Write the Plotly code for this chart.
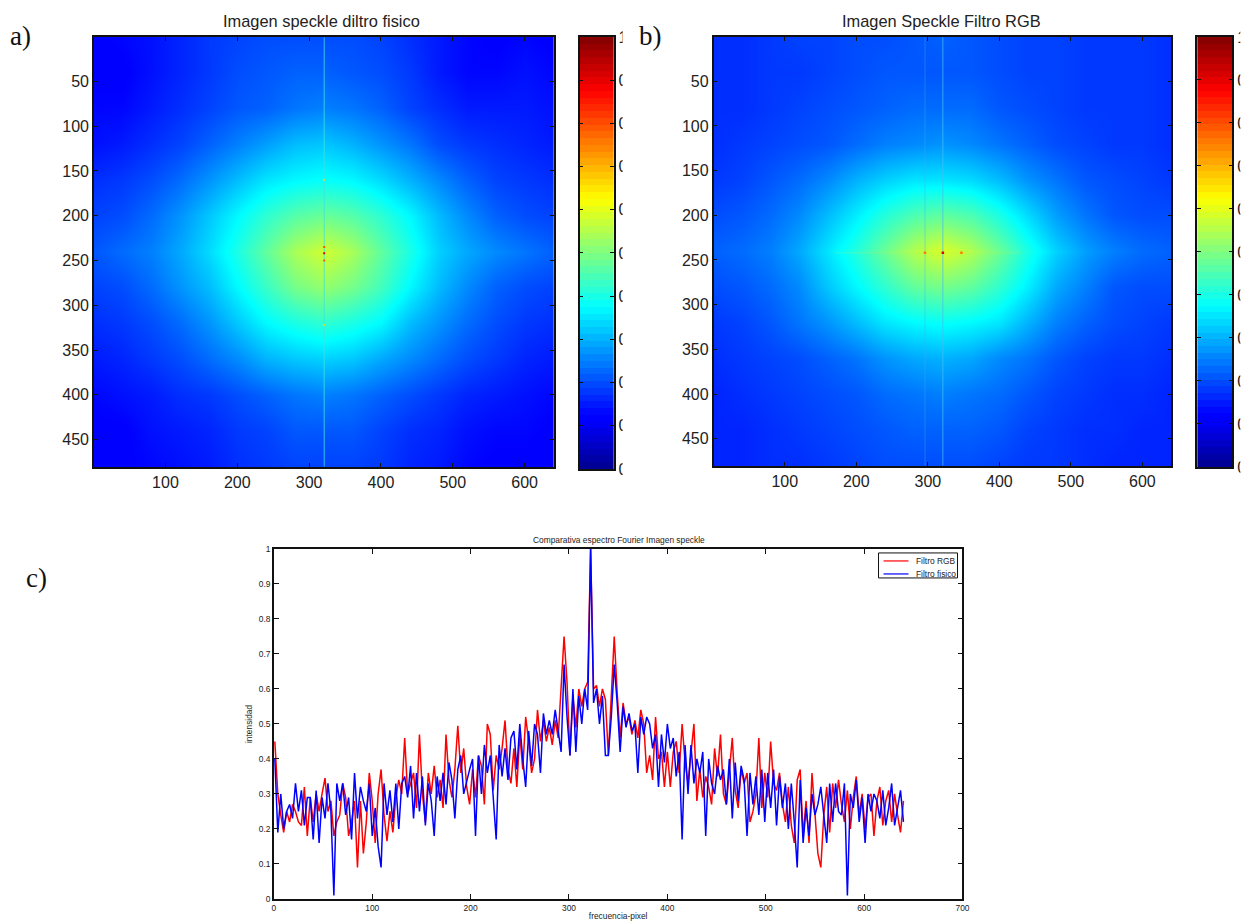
import plotly.graph_objects as go

W, H = 1280, 940

# ---------- data ----------
grid_x = [1, 40, 80, 120, 160, 200, 240, 280, 320, 360, 400, 440, 480, 520, 560, 600, 640]
grid_y = [1, 40, 80, 120, 160, 200, 240, 280, 320, 360, 400, 440, 480]

z_fisico = [
    [.12,.13,.14,.16,.18,.19,.20,.20,.20,.20,.19,.17,.15,.13,.12,.13,.12],
    [.12,.12,.14,.16,.18,.20,.21,.22,.22,.21,.20,.18,.15,.13,.13,.14,.13],
    [.13,.13,.15,.17,.19,.21,.22,.24,.25,.24,.22,.19,.17,.15,.15,.15,.14],
    [.14,.15,.17,.19,.22,.25,.28,.31,.32,.30,.27,.24,.20,.18,.17,.16,.15],
    [.17,.18,.20,.23,.27,.31,.35,.37,.38,.37,.34,.30,.26,.22,.19,.18,.17],
    [.19,.20,.23,.27,.32,.37,.42,.46,.48,.46,.42,.37,.31,.26,.22,.20,.19],
    [.21,.23,.25,.29,.34,.40,.47,.54,.58,.54,.47,.40,.33,.29,.26,.24,.22],
    [.19,.20,.23,.27,.31,.37,.43,.49,.52,.49,.44,.37,.31,.26,.22,.20,.19],
    [.17,.18,.20,.23,.27,.32,.37,.40,.42,.40,.37,.31,.27,.23,.20,.18,.17],
    [.15,.16,.18,.20,.23,.26,.30,.32,.33,.32,.29,.26,.23,.20,.18,.16,.15],
    [.13,.14,.15,.17,.18,.20,.22,.24,.25,.24,.22,.20,.18,.16,.15,.14,.13],
    [.12,.12,.14,.15,.16,.18,.19,.21,.21,.21,.19,.17,.16,.14,.13,.13,.12],
    [.12,.12,.13,.14,.15,.17,.18,.19,.19,.19,.18,.16,.15,.13,.12,.12,.12],
]
z_rgb = [
    [.17,.17,.18,.19,.19,.20,.20,.21,.22,.21,.20,.19,.19,.18,.18,.18,.17],
    [.17,.17,.18,.18,.19,.20,.21,.21,.21,.21,.20,.19,.19,.18,.18,.18,.17],
    [.17,.17,.18,.19,.20,.21,.22,.23,.23,.23,.21,.20,.19,.18,.18,.18,.17],
    [.17,.18,.19,.20,.21,.23,.25,.26,.27,.26,.24,.22,.20,.19,.18,.18,.17],
    [.18,.19,.21,.23,.26,.30,.33,.35,.35,.34,.31,.27,.24,.21,.20,.19,.18],
    [.20,.21,.23,.26,.31,.36,.41,.45,.47,.45,.40,.34,.28,.24,.21,.20,.20],
    [.22,.23,.25,.29,.35,.41,.48,.55,.59,.55,.48,.40,.33,.28,.25,.23,.22],
    [.20,.21,.23,.26,.32,.37,.42,.47,.49,.47,.42,.36,.29,.25,.21,.20,.20],
    [.18,.19,.21,.24,.27,.31,.35,.37,.38,.37,.35,.30,.25,.22,.20,.19,.18],
    [.17,.18,.19,.20,.22,.24,.27,.29,.30,.29,.26,.24,.21,.19,.18,.18,.17],
    [.16,.17,.18,.19,.20,.21,.23,.24,.25,.24,.23,.21,.19,.18,.17,.17,.16],
    [.16,.16,.17,.18,.19,.20,.21,.22,.22,.22,.21,.19,.18,.17,.17,.16,.16],
    [.16,.16,.17,.17,.18,.19,.20,.20,.20,.20,.19,.18,.18,.17,.16,.16,.16],
]

bright_column = 321
faint_column_rgb = 296
peak_y = 242
peaks_fisico_y = [160, 235, 242, 250, 322]
peaks_fisico_c = ["#c8e03c", "#ff5a00", "#e00000", "#ff5a00", "#c8e03c"]
peaks_rgb_x = [296, 321, 347]
peaks_rgb_c = ["#ff7a00", "#e00000", "#ff7a00"]

pixel_x = list(range(1, 641, 3))
filtro_rgb = [
    .45,.30,.24,.19,.25,.22,.27,.25,.22,.21,
    .32,.18,.29,.22,.30,.25,.30,.345,.25,.28,
    .18,.22,.24,.33,.29,.18,.22,.28,.09,.28,
    .13,.22,.36,.28,.16,.30,.37,.24,.165,.25,
    .19,.29,.34,.30,.46,.30,.33,.36,.26,.47,
    .30,.22,.36,.30,.38,.29,.34,.26,.47,.34,
    .29,.37,.495,.36,.43,.32,.27,.37,.29,.41,
    .38,.27,.50,.47,.31,.41,.37,.43,.51,.37,
    .33,.43,.32,.47,.37,.52,.45,.36,.40,.54,
    .45,.51,.45,.49,.44,.51,.46,.59,.75,.62,
    .41,.58,.49,.60,.55,.60,.62,1.0,.60,.61,
    .55,.60,.57,.41,.60,.75,.59,.46,.56,.50,
    .52,.47,.51,.46,.54,.50,.36,.41,.34,.52,
    .40,.42,.32,.42,.32,.42,.45,.36,.50,.39,
    .33,.42,.50,.28,.37,.29,.35,.32,.27,.43,
    .35,.47,.30,.27,.36,.46,.31,.26,.37,.33,
    .36,.22,.25,.30,.46,.26,.36,.29,.45,.33,
    .31,.36,.27,.22,.32,.21,.16,.34,.37,.18,
    .28,.16,.36,.23,.13,.09,.24,.32,.19,.33,
    .26,.34,.27,.22,.31,.20,.29,.35,.24,.30,
    .20,.29,.30,.18,.28,.32,.21,.28,.31,.22,
    .30,.24,.19,.28,
]
filtro_fisico = [
    .40,.19,.30,.20,.25,.27,.23,.33,.25,.31,
    .21,.29,.29,.17,.31,.16,.29,.23,.33,.25,
    .01,.33,.28,.33,.24,.29,.17,.36,.23,.32,
    .28,.25,.33,.18,.26,.15,.09,.33,.24,.31,
    .22,.33,.20,.33,.35,.29,.38,.23,.36,.25,
    .35,.21,.33,.28,.18,.35,.28,.36,.27,.39,
    .34,.23,.37,.41,.30,.34,.37,.40,.18,.41,
    .30,.44,.36,.41,.29,.17,.44,.35,.43,.34,
    .46,.48,.37,.50,.40,.32,.48,.38,.50,.47,
    .36,.53,.47,.51,.47,.54,.48,.42,.67,.52,
    .41,.60,.42,.58,.50,.60,.54,1.0,.56,.60,
    .50,.58,.41,.41,.52,.67,.56,.42,.55,.49,
    .53,.48,.50,.36,.52,.47,.52,.50,.43,.47,
    .32,.47,.39,.50,.43,.46,.35,.42,.17,.44,
    .30,.44,.33,.40,.36,.42,.18,.40,.33,.30,
    .38,.34,.37,.27,.40,.23,.39,.28,.38,.34,
    .18,.36,.27,.35,.24,.37,.22,.36,.26,.37,
    .21,.35,.26,.33,.20,.33,.22,.09,.34,.16,
    .26,.18,.30,.24,.27,.32,.24,.16,.33,.22,
    .33,.25,.24,.33,.01,.30,.26,.34,.22,.29,
    .16,.30,.25,.30,.28,.23,.31,.21,.26,.33,
    .21,.26,.31,.22,
]

heat_x_ticks = [100, 200, 300, 400, 500, 600]
heat_y_ticks = [50, 100, 150, 200, 250, 300, 350, 400, 450]
cbar_ticks = [0, .1, .2, .3, .4, .5, .6, .7, .8, .9, 1]
cbar_labels = ["0", "0.1", "0.2", "0.3", "0.4", "0.5", "0.6", "0.7", "0.8", "0.9", "1"]
cbar_levels = [(i + .5) / 64 for i in range(64)]
line_x_ticks = [0, 100, 200, 300, 400, 500, 600, 700]
line_y_ticks = [0, .1, .2, .3, .4, .5, .6, .7, .8, .9, 1]

# ---------- style ----------
JET = [[0, "#00008f"], [.11, "#0000ff"], [.125, "#0000ff"], [.375, "#00ffff"],
       [.625, "#ffff00"], [.875, "#ff0000"], [1, "#800000"]]
SANS = "Liberation Sans, Arial, sans-serif"
SERIF = "Liberation Serif, DejaVu Serif, serif"


def fx(x):
    return min(1, max(0, ((x - 1) / .9935) / W))


def fy(y):
    return min(1, max(0, 1 - ((y - 8) / .982) / H))


def dom_x(a, b):
    return [fx(a), fx(b)]


def dom_y(top, bottom):
    return [fy(bottom), fy(top)]


fig = go.Figure()


def axis_common(size):
    return dict(showgrid=False, zeroline=False, showline=True, linecolor="#111111", linewidth=1.5,
                mirror="ticks", ticks="inside", ticklen=4, tickcolor="#111111", tickwidth=1,
                tickfont=dict(family=SANS, size=size, color="#222222"))


def heat_panel(n, z, px, py, cbx, cby):
    ax, ay = f"x{n}", f"y{n}"
    fig.add_trace(go.Heatmap(x=grid_x, y=grid_y, z=z, zmin=0, zmax=1, colorscale=JET, showscale=False,
                             zsmooth="best", xaxis=ax, yaxis=ay, hoverinfo="skip"))
    fig.layout[f"xaxis{n}"] = dict(axis_common(16), domain=dom_x(*px), range=[.5, 640.5], anchor=ay,
                                   tickvals=heat_x_ticks)
    fig.layout[f"yaxis{n}"] = dict(axis_common(16), domain=dom_y(*py), range=[480.5, .5], anchor=ax,
                                   tickvals=heat_y_ticks)
    m = n + 1
    bx, by = f"x{m}", f"y{m}"
    fig.add_trace(go.Heatmap(x=[0, 1], y=cbar_levels, z=[[v, v] for v in cbar_levels], zmin=0, zmax=1,
                             colorscale=JET, showscale=False, xaxis=bx, yaxis=by, hoverinfo="skip"))
    fig.layout[f"xaxis{m}"] = dict(domain=dom_x(*cbx), range=[0, 1], anchor=by, showticklabels=False,
                                   ticks="", showgrid=False, zeroline=False, showline=True,
                                   linecolor="#111111", linewidth=1.5, mirror=True)
    fig.layout[f"yaxis{m}"] = dict(axis_common(16), domain=dom_y(*cby), range=[0, 1], anchor=bx, side="right",
                                   tickvals=cbar_ticks, ticktext=cbar_labels)


heat_panel(1, z_fisico, (93, 553), (37, 467), (579, 613), (37, 469))
heat_panel(3, z_rgb, (713, 1171), (37, 466), (1197, 1232), (37, 467))

# bright stripes and central peaks
fig.add_trace(go.Scatter(x=[bright_column, bright_column], y=[1, 480], mode="lines", xaxis="x", yaxis="y",
                         line=dict(color="rgba(60,225,225,0.8)", width=1), hoverinfo="skip", showlegend=False))
fig.add_trace(go.Scatter(x=[bright_column] * len(peaks_fisico_y), y=peaks_fisico_y, mode="markers", xaxis="x",
                         yaxis="y", marker=dict(color=peaks_fisico_c, size=2, symbol="square"),
                         hoverinfo="skip", showlegend=False))
fig.add_trace(go.Scatter(x=[bright_column, bright_column], y=[1, 480], mode="lines", xaxis="x3", yaxis="y3",
                         line=dict(color="rgba(70,190,240,0.75)", width=1), hoverinfo="skip", showlegend=False))
fig.add_trace(go.Scatter(x=[faint_column_rgb, faint_column_rgb], y=[1, 480], mode="lines", xaxis="x3", yaxis="y3",
                         line=dict(color="rgba(70,170,240,0.4)", width=1), hoverinfo="skip", showlegend=False))
fig.add_trace(go.Scatter(x=[170, 430], y=[peak_y, peak_y], mode="lines", xaxis="x3", yaxis="y3",
                         line=dict(color="rgba(200,235,90,0.25)", width=1), hoverinfo="skip", showlegend=False))
fig.add_trace(go.Scatter(x=peaks_rgb_x, y=[peak_y] * 3, mode="markers", xaxis="x3", yaxis="y3",
                         marker=dict(color=peaks_rgb_c, size=2.5, symbol="square"), hoverinfo="skip", showlegend=False))

# comparison chart
fig.add_trace(go.Scatter(x=pixel_x, y=filtro_rgb, mode="lines", name="Filtro RGB", xaxis="x5", yaxis="y5",
                         line=dict(color="#ff0000", width=1.5), showlegend=False))
fig.add_trace(go.Scatter(x=pixel_x, y=filtro_fisico, mode="lines", name="Filtro fisico", xaxis="x5", yaxis="y5",
                         line=dict(color="#0000ff", width=1.5), showlegend=False))
small = dict(family=SANS, size=8.4, color="#222222")
fig.layout["xaxis5"] = dict(axis_common(8.4), domain=dom_x(273, 962), range=[0, 700], anchor="y5",
                            tickvals=line_x_ticks, ticklen=5,
                            title=dict(text="frecuencia-pixel", font=small, standoff=1))
fig.layout["yaxis5"] = dict(axis_common(8.4), domain=dom_y(549, 899), range=[0, 1], anchor="x5",
                            tickvals=line_y_ticks, ticklen=5,
                            title=dict(text="intensidad", font=small, standoff=5))

for (px, py, txt, sz, fam, col) in [
    (321, 21, "Imagen speckle diltro fisico", 16.4, SANS, "#222222"),
    (941, 21, "Imagen Speckle Filtro RGB", 16.4, SANS, "#222222"),
    (618, 540, "Comparativa espectro Fourier Imagen speckle", 8.4, SANS, "#222222"),
    (20, 36, "a)", 27, SERIF, "#111111"),
    (650, 36, "b)", 27, SERIF, "#111111"),
    (36, 578, "c)", 27, SERIF, "#111111"),
]:
    fig.add_annotation(x=fx(px), y=fy(py), xref="paper", yref="paper", text=txt, showarrow=False,
                       xanchor="center", yanchor="middle", font=dict(family=fam, size=sz, color=col))

# legend box, drawn small as in the source figure
fig.add_shape(type="rect", xref="paper", yref="paper", x0=fx(878), x1=fx(957), y0=fy(578), y1=fy(553),
              fillcolor="white", line=dict(color="#111111", width=1), layer="above")
for yy, col, label in [(561, "#ff0000", "Filtro RGB"), (574, "#0000ff", "Filtro fisico")]:
    fig.add_shape(type="line", xref="paper", yref="paper", x0=fx(883), x1=fx(908), y0=fy(yy), y1=fy(yy),
                  line=dict(color=col, width=1.2), layer="above")
    fig.add_annotation(x=fx(913), y=fy(yy), xref="paper", yref="paper", text=label, showarrow=False,
                       xanchor="left", yanchor="middle", font=small)

# the source image clips the colour bar labels
for a, b in [(622, 648), (1240, 1270)]:
    fig.add_shape(type="rect", xref="paper", yref="paper", x0=fx(a), x1=fx(b), y0=fy(480), y1=fy(30),
                  fillcolor="white", line_width=0, layer="above")

fig.update_layout(
    width=W, height=H, margin=dict(l=0, r=0, t=0, b=0), paper_bgcolor="white", plot_bgcolor="white",
    showlegend=False,
)

fig.write_html("out.html", config={"displayModeBar": False},
               post_script="document.body.style.margin='0';")
